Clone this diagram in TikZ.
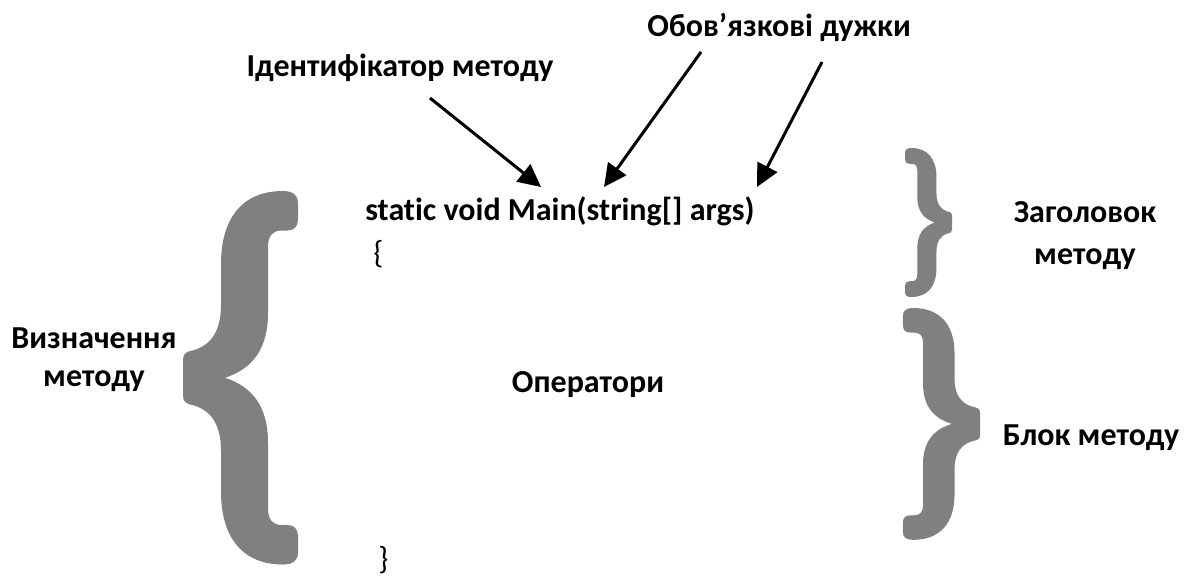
\documentclass[tikz,border=0pt]{standalone}
\usepackage{fontspec}
\setmainfont{Carlito}[Ligatures=NoCommon]
\usetikzlibrary{arrows.meta}
\definecolor{bracegray}{RGB}{128,128,128}
\tikzset{
  lbl/.style={font=\fontsize{24}{29}\selectfont\bfseries, inner sep=0pt},
  plain/.style={font=\fontsize{24}{29}\selectfont, inner sep=0pt},
  ptr/.style={line width=2.25pt, -{Triangle[length=17pt,width=16.5pt]}},
  % a thick curly brace "{" in a 115 x 368 box, origin at its top left corner
  curly/.pic={
    \fill[bracegray] (0,184) -- (0,166) .. controls (0,160) and (4,158) .. (10,157)
      .. controls (28,152) and (38,138) .. (38,112) -- (38,72)
      .. controls (38,26) and (60,0) .. (100,0)
      .. controls (110,0) and (115,4) .. (115,12) -- (115,28)
      .. controls (115,35) and (111,39) .. (104,39) -- (98,39)
      .. controls (90,39) and (85,44) .. (85,55) -- (85,120)
      .. controls (85,155) and (70,175) .. (42,184)
      .. controls (70,193) and (85,213) .. (85,248) -- (85,313)
      .. controls (85,324) and (90,329) .. (98,329) -- (104,329)
      .. controls (111,329) and (115,333) .. (115,340) -- (115,356)
      .. controls (115,364) and (110,368) .. (100,368)
      .. controls (60,368) and (38,342) .. (38,296) -- (38,256)
      .. controls (38,230) and (28,216) .. (10,211)
      .. controls (4,210) and (0,208) .. (0,202) -- cycle;
  }
}
\begin{document}
\begin{tikzpicture}[x=0.75pt, y=-0.75pt]
\useasboundingbox (0,0) rectangle (1189,575);

% big braces
\pic[transform shape, shift={(183,191)}, yscale=1.015] {curly};
\pic[transform shape, shift={(952,148)}, xscale=-0.4087, yscale=0.405] {curly};
\pic[transform shape, shift={(980,308)}, xscale=-0.670, yscale=0.630] {curly};

% method text
\node (code) [lbl, anchor=base west] at (365,220) {static void Main(string[] args)};
\node (ob) [plain, anchor=base west] at (373,263) {\{};
\node (cb) [plain, anchor=base west] at (378,569) {\}};
\node (ops) [lbl, anchor=base] at (588,392) {Оператори};

% labels
\node (ident) [lbl, anchor=base] at (400,76) {Ідентифікатор методу};
\node (brk) [lbl, anchor=base] at (779,36) {Обов’язкові дужки};
\node (hdr1) [lbl, anchor=base] at (1085,222) {Заголовок};
\node (hdr2) [lbl, anchor=base] at (1085,264) {методу};
\node (def1) [lbl, anchor=base] at (94,348) {Визначення};
\node (def2) [lbl, anchor=base] at (94,386) {методу};
\node (blk) [lbl, anchor=base] at (1091,445) {Блок методу};

% pointers
\coordinate (s1) at (430,98);  \coordinate (t1) at (541,187);
\coordinate (s2) at (701,52);  \coordinate (t2) at (604,187);
\coordinate (s3) at (822,62);  \coordinate (t3) at (757,187);
\draw[ptr] (s1) -- (t1);
\draw[ptr] (s2) -- (t2);
\draw[ptr] (s3) -- (t3);
\end{tikzpicture}
\end{document}
